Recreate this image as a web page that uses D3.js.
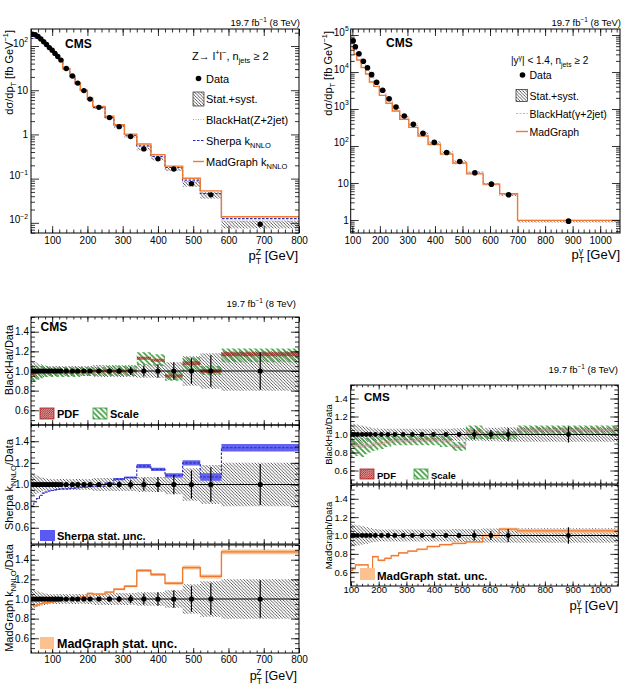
<!DOCTYPE html>
<html>
<head>
<meta charset="utf-8">
<title>Z+jets and photon+jets pT spectra</title>
<style>
  body { margin: 0; background: #fff; }
  svg { font-family: 'Liberation Sans', Arial, Helvetica, sans-serif; }
</style>
</head>
<body>
<svg id="svg" width="633" height="691"></svg>
<script src="https://d3js.org/d3.v7.min.js"></script>
<script>
// ---------- Z -> l+l-, njets >= 2 ----------
const zEdges = [40, 48, 56, 64, 72, 80, 88, 96, 104, 112, 120, 130, 150, 165, 180, 200, 215, 250, 275, 305, 340, 380, 420, 470, 520, 580, 800]
const zData = [185, 180, 165, 145, 125, 108, 92, 80, 68, 58, 48, 31, 21, 14.5, 9.8, 6.3, 4.1, 2.4, 1.5, 0.9, 0.47, 0.28, 0.165, 0.077, 0.043, 0.0093]
const zUnc = [0.1, 0.09, 0.08, 0.07, 0.06, 0.055, 0.05, 0.05, 0.05, 0.05, 0.05, 0.05, 0.05, 0.05, 0.05, 0.05, 0.06, 0.06, 0.06, 0.06, 0.07, 0.07, 0.09, 0.15, 0.18, 0.2]
const zStat = [0.01, 0.01, 0.01, 0.01, 0.01, 0.01, 0.01, 0.01, 0.01, 0.01, 0.01, 0.01, 0.012, 0.015, 0.015, 0.02, 0.02, 0.025, 0.03, 0.04, 0.057, 0.07, 0.09, 0.13, 0.16, 0.19]
// theory / data ratios
const bhZ = [0.97, 0.98, 0.99, 1.0, 1.0, 1.0, 1.0, 1.0, 1.0, 1.0, 0.99, 0.99, 0.99, 0.99, 1.0, 1.0, 1.0, 1.0, 1.0, 1.0, 1.13, 1.11, 0.95, 1.08, 1.0, 1.17]
const bhZScaleLo = [0.87, 0.89, 0.91, 0.92, 0.93, 0.94, 0.94, 0.94, 0.94, 0.94, 0.94, 0.94, 0.94, 0.94, 0.95, 0.95, 0.95, 0.95, 0.95, 0.95, 1.06, 1.05, 0.9, 1.0, 0.96, 1.09]
const bhZScaleHi = [1.06, 1.05, 1.05, 1.05, 1.05, 1.05, 1.04, 1.04, 1.04, 1.04, 1.04, 1.04, 1.04, 1.04, 1.04, 1.04, 1.04, 1.05, 1.05, 1.05, 1.19, 1.17, 1.0, 1.14, 1.05, 1.23]
const bhZPdf = [0.015, 0.015, 0.015, 0.015, 0.015, 0.015, 0.015, 0.015, 0.015, 0.015, 0.015, 0.015, 0.015, 0.015, 0.015, 0.015, 0.015, 0.015, 0.015, 0.015, 0.015, 0.015, 0.015, 0.02, 0.02, 0.02]
const shZ = [0.8, 0.84, 0.87, 0.9, 0.92, 0.93, 0.94, 0.945, 0.95, 0.955, 0.96, 0.96, 0.965, 0.97, 0.975, 0.98, 0.985, 1.01, 1.05, 1.065, 1.17, 1.14, 1.085, 1.2, 1.07, 1.34]
const shZErr = [0.004, 0.004, 0.004, 0.004, 0.004, 0.004, 0.004, 0.004, 0.004, 0.004, 0.004, 0.004, 0.004, 0.004, 0.004, 0.004, 0.004, 0.008, 0.01, 0.01, 0.02, 0.015, 0.02, 0.025, 0.035, 0.035]
const mgZ = [0.94, 0.93, 0.94, 0.95, 0.96, 0.96, 0.97, 0.97, 0.98, 0.98, 0.99, 1.0, 1.0, 1.01, 1.02, 1.057, 1.05, 1.07, 1.1, 1.13, 1.29, 1.25, 1.16, 1.32, 1.23, 1.48]
const mgZErr = [0.01, 0.01, 0.01, 0.01, 0.01, 0.01, 0.01, 0.01, 0.01, 0.01, 0.01, 0.01, 0.01, 0.01, 0.01, 0.01, 0.01, 0.01, 0.01, 0.01, 0.015, 0.015, 0.015, 0.02, 0.02, 0.025]

// ---------- photon, |y| < 1.4, njets >= 2 ----------
const gEdges = [100, 106, 116, 132, 148, 162, 178, 198, 222, 245, 272, 305, 338, 375, 420, 465, 515, 575, 635, 700, 1070]
const gData = [70000, 48000, 31000, 19500, 13000, 8500, 5300, 3200, 1900, 1130, 650, 385, 220, 125, 67, 38, 19, 9.3, 4.8, 0.93]
const gUnc = [0.12, 0.12, 0.11, 0.1, 0.09, 0.08, 0.07, 0.065, 0.065, 0.065, 0.065, 0.065, 0.065, 0.065, 0.065, 0.07, 0.07, 0.075, 0.08, 0.08]
const gStat = [0.005, 0.005, 0.005, 0.005, 0.005, 0.005, 0.005, 0.005, 0.005, 0.005, 0.005, 0.005, 0.01, 0.012, 0.015, 0.02, 0.055, 0.05, 0.07, 0.09]
const bhG = [0.9, 0.88, 0.88, 0.87, 0.88, 0.87, 0.9, 0.9, 0.92, 0.93, 0.93, 0.93, 0.94, 0.94, 0.93, 0.87, 1.03, 1.0, 1.0, 1.05]
const bhGScaleLo = [0.75, 0.78, 0.76, 0.75, 0.78, 0.8, 0.82, 0.84, 0.86, 0.88, 0.88, 0.88, 0.88, 0.88, 0.86, 0.82, 0.95, 0.95, 0.95, 1.0]
const bhGScaleHi = [0.98, 0.98, 0.97, 0.96, 0.96, 0.97, 0.98, 0.99, 0.99, 0.99, 0.99, 0.99, 0.99, 0.99, 0.99, 0.92, 1.1, 1.04, 1.04, 1.1]
const bhGPdf = [0.02, 0.02, 0.02, 0.02, 0.02, 0.02, 0.02, 0.02, 0.02, 0.02, 0.02, 0.02, 0.02, 0.02, 0.02, 0.02, 0.02, 0.02, 0.02, 0.02]
const mgG = [0.62, 0.64, 0.68, 0.68, 0.68, 0.63, 0.77, 0.73, 0.75, 0.78, 0.81, 0.83, 0.85, 0.88, 0.9, 0.915, 0.93, 1.0, 1.07, 1.05]
const mgGErr = [0.01, 0.01, 0.01, 0.01, 0.01, 0.01, 0.01, 0.01, 0.01, 0.01, 0.01, 0.01, 0.01, 0.01, 0.01, 0.01, 0.01, 0.015, 0.015, 0.02]

const ratioMajor = [0.6, 0.8, 1.0, 1.2, 1.4]
const lumiText = '19.7 fb'

// colours
const cOrange = '#f07a32', cOrangeBand = '#fdc08f'
const cBlue = '#2a2ab8', cBlueBand = '#5a5af2'
const cBH = '#b0a0c8', cBHg = '#d8a0dc'

const svg = d3.select('#svg')
svg.append('rect').attr('width', 633).attr('height', 691).attr('fill', '#fff')
const defs = svg.append('defs')

// hatch patterns (ROOT style fills)
function hatch(id, s, dir, color, sw) {
  const d = dir === 'back'
    ? `M-1,${s - 1} L1,${s + 1} M0,0 L${s},${s} M${s - 1},-1 L${s + 1},1`
    : `M-1,1 L1,-1 M0,${s} L${s},0 M${s - 1},${s + 1} L${s + 1},${s - 1}`
  defs.append('pattern').attr('id', id).attr('patternUnits', 'userSpaceOnUse')
    .attr('width', s).attr('height', s)
    .append('path').attr('d', d).attr('stroke', color).attr('stroke-width', sw).attr('fill', 'none')
}
hatch('hGray', 3.2, 'back', '#262626', 0.75)
hatch('hGreen', 5.5, 'back', '#3a9c3a', 1.7)
hatch('hRed', 2.2, 'fwd', '#a81c1c', 1.0)

let clipN = 0
function clipFor(xs, ys) {
  const id = 'clip' + (clipN++)
  const [x0, x1] = xs.range(), [y1, y0] = ys.range()
  defs.append('clipPath').attr('id', id).append('rect')
    .attr('x', x0).attr('y', y0).attr('width', x1 - x0).attr('height', y1 - y0)
  return `url(#${id})`
}

// text with sub/superscripts: parts = [[str, kind, dx]], kind: null | 'sub' | 'sup'
function rich(t, parts, fs) {
  let off = 0
  parts.forEach(([s, k, dx]) => {
    const target = k === 'sub' ? 0.28 * fs : k === 'sup' ? -0.42 * fs : 0
    const ts = t.append('tspan').attr('dy', target - off).text(s)
    if (k) ts.attr('font-size', 0.68 * fs)
    if (dx) ts.attr('dx', dx)
    off = target
  })
  return t
}

function label(x, y, fs, parts, opts = {}) {
  const t = svg.append('text').attr('x', x).attr('y', y).attr('font-size', fs)
    .attr('text-anchor', opts.anchor || 'start')
  if (opts.bold) t.attr('font-weight', 'bold')
  if (opts.rot) t.attr('x', null).attr('y', null).attr('transform', `translate(${x},${y}) rotate(-90)`)
  return rich(t, typeof parts === 'string' ? [[parts]] : parts, fs)
}

// ROOT-like frame: ticks inward on all four sides
function frame(xs, ys, o) {
  const g = svg.append('g')
  const [x0, x1] = xs.range(), [y1, y0] = ys.range()
  const side = (axis, tr, vals, len, fmt, fs, pad) => {
    const a = g.append('g').attr('transform', tr)
      .call(axis.tickValues(vals).tickSize(-len).tickPadding(pad || 0).tickFormat(fmt))
    a.select('.domain').remove()
    a.attr('font-family', null).attr('font-size', fs || 10)
    a.selectAll('line').attr('stroke', '#000').attr('stroke-width', 0.8)
    a.selectAll('text').attr('fill', '#000')
    return a
  }
  const none = () => ''
  side(d3.axisBottom(xs), `translate(0,${y1})`, o.xMinor, o.xLen / 2, none)
  side(d3.axisTop(xs), `translate(0,${y0})`, o.xMinor, o.xLen / 2, none)
  side(d3.axisTop(xs), `translate(0,${y0})`, o.xMajor, o.xLen, none)
  side(d3.axisBottom(xs), `translate(0,${y1})`, o.xMajor, o.xLen, o.xLabels ? d3.format('d') : none, o.xfs, o.xpad)
  side(d3.axisLeft(ys), `translate(${x0},0)`, o.yMinor, o.yLen / 2, none)
  side(d3.axisRight(ys), `translate(${x1},0)`, o.yMinor, o.yLen / 2, none)
  side(d3.axisRight(ys), `translate(${x1},0)`, o.yMajor, o.yLen, none)
  const ly = side(d3.axisLeft(ys), `translate(${x0},0)`, o.yMajor, o.yLen, o.yFmt || none, o.yfs, o.ypad)
  if (o.logLabels) {
    ly.selectAll('.tick text').each(function (d) {
      const e = Math.round(Math.log10(d))
      const t = d3.select(this).text(null)
      if (e === 0) t.text('1')
      else if (e === 1) t.text('10')
      else rich(t, [['10'], [e < 0 ? '\u2212' + (-e) : String(e), 'sup']], o.yfs)
    })
  }
  g.append('rect').attr('x', x0).attr('y', y0).attr('width', x1 - x0).attr('height', y1 - y0)
    .attr('fill', 'none').attr('stroke', '#000').attr('stroke-width', 1)
  return g
}

function logMinor(ys) {
  const [a, b] = ys.domain()
  const out = []
  for (let e = Math.floor(Math.log10(a)); e <= Math.ceil(Math.log10(b)); e++)
    for (let k = 2; k <= 9; k++) { const v = k * 10 ** e; if (v >= a && v <= b) out.push(v) }
  return out
}
function logMajor(ys) {
  const [a, b] = ys.domain()
  const out = []
  for (let e = Math.ceil(Math.log10(a)); e <= Math.floor(Math.log10(b)); e++) out.push(10 ** e)
  return out
}

// bins -> vertices for a step outline or band
const stepPts = (edges, vals) => vals.flatMap((v, i) => [[edges[i], v], [edges[i + 1], v]])
const bandPts = (edges, lo, hi) => lo.flatMap((l, i) => [[edges[i], l, hi[i]], [edges[i + 1], l, hi[i]]])

function stepLine(g, xs, ys, edges, vals, stroke, sw, dash) {
  const line = d3.line().x(d => xs(d[0])).y(d => ys(d[1]))
  const p = g.append('path').attr('d', line(stepPts(edges, vals)))
    .attr('fill', 'none').attr('stroke', stroke).attr('stroke-width', sw)
  if (dash) p.attr('stroke-dasharray', dash)
  return p
}
function band(g, xs, ys, edges, lo, hi, fill, opacity) {
  const area = d3.area().x(d => xs(d[0])).y0(d => ys(d[1])).y1(d => ys(d[2]))
  return g.append('path').attr('d', area(bandPts(edges, lo, hi))).attr('fill', fill)
    .attr('fill-opacity', opacity == null ? 1 : opacity)
}
const centers = edges => edges.slice(0, -1).map((e, i) => (e + edges[i + 1]) / 2)

function lumi(xRight, y) {
  label(xRight, y, 9.5, [[lumiText], ['\u22121', 'sup'], [' (8 TeV)']], { anchor: 'end' })
}
const sigmaTitle = [['d\u03c3/dp'], ['T', 'sub'], [' [fb GeV'], ['\u22121', 'sup'], [']']]

// ================= top-left: Z spectrum =================
{
  const xs = d3.scaleLinear().domain([40, 800]).range([31, 299])
  const ys = d3.scaleLog().domain([10 ** -2.23, 10 ** 2.385]).range([233, 29])
  const g = svg.append('g').attr('clip-path', clipFor(xs, ys))
  zData.forEach((v, i) => {
    g.append('rect').attr('x', xs(zEdges[i])).attr('width', xs(zEdges[i + 1]) - xs(zEdges[i]))
      .attr('y', ys(v * (1 + zUnc[i]))).attr('height', ys(v * (1 - zUnc[i])) - ys(v * (1 + zUnc[i])))
      .attr('fill', 'url(#hGray)')
  })
  stepLine(g, xs, ys, zEdges, zData.map((v, i) => v * bhZ[i]), cBH, 1, '1,1.5')
  stepLine(g, xs, ys, zEdges, zData.map((v, i) => v * shZ[i]), cBlue, 1.1, '2.5,1.5')
  stepLine(g, xs, ys, zEdges, zData.map((v, i) => v * mgZ[i]), cOrange, 1.4)
  centers(zEdges).forEach((c, i) => {
    g.append('circle').attr('cx', xs(c)).attr('cy', ys(zData[i])).attr('r', 2.7).attr('fill', '#000')
  })
  frame(xs, ys, { xMajor: d3.range(100, 801, 100), xMinor: d3.range(40, 801, 20), yMajor: logMajor(ys),
    yMinor: logMinor(ys), xLen: 7, yLen: 8, xfs: 10, yfs: 10, xpad: 4, ypad: 3, xLabels: true, logLabels: true })
  lumi(300, 26)
  label(65, 48, 12, 'CMS', { bold: true })
  label(12.5, 30, 11, sigmaTitle, { anchor: 'end', rot: true })
  label(298, 260, 13, [['p'], ['T', 'sub'], ['Z', 'sup', -5.5], [' [GeV]']], { anchor: 'end' })
  // legend
  label(192, 60, 11, [['Z\u2192 l'], ['+', 'sup'], ['l'], ['\u2212', 'sup'], [', n'], ['jets', 'sub'], [' \u2265 2']])
  svg.append('circle').attr('cx', 198.5).attr('cy', 78.5).attr('r', 2.8).attr('fill', '#000')
  label(206, 82.5, 11, 'Data')
  svg.append('rect').attr('x', 193).attr('y', 92).attr('width', 11).attr('height', 14)
    .attr('fill', 'url(#hGray)').attr('stroke', '#000').attr('stroke-width', 0.6)
  label(206, 103, 11, 'Stat.+syst.')
  const leg = (y, stroke, sw, dash) => {
    const l = svg.append('line').attr('x1', 193).attr('x2', 204).attr('y1', y).attr('y2', y)
      .attr('stroke', stroke).attr('stroke-width', sw)
    if (dash) l.attr('stroke-dasharray', dash)
  }
  leg(119.5, cBH, 1, '1,1.5')
  label(206, 124, 11, 'BlackHat(Z+2jet)')
  leg(140.5, cBlue, 1.2, '2.5,1.5')
  label(206, 145, 11, [['Sherpa k'], ['NNLO', 'sub']])
  leg(161.5, cOrange, 1.4)
  label(206, 166, 11, [['MadGraph k'], ['NNLO', 'sub']])
}

// ================= top-right: photon spectrum =================
{
  const xs = d3.scaleLinear().domain([94, 1072]).range([350.7, 620])
  const ys = d3.scaleLog().domain([10 ** -0.352, 10 ** 5.163]).range([233, 29])
  const g = svg.append('g').attr('clip-path', clipFor(xs, ys))
  gData.forEach((v, i) => {
    g.append('rect').attr('x', xs(gEdges[i])).attr('width', xs(gEdges[i + 1]) - xs(gEdges[i]))
      .attr('y', ys(v * (1 + gUnc[i]))).attr('height', ys(v * (1 - gUnc[i])) - ys(v * (1 + gUnc[i])))
      .attr('fill', 'url(#hGray)')
  })
  stepLine(g, xs, ys, gEdges, gData.map((v, i) => v * bhG[i]), cBHg, 1, '2,1.5')
  stepLine(g, xs, ys, gEdges, gData.map((v, i) => v * mgG[i]), cOrange, 1.4)
  centers(gEdges).forEach((c, i) => {
    g.append('circle').attr('cx', xs(c)).attr('cy', ys(gData[i])).attr('r', 2.8).attr('fill', '#000')
  })
  frame(xs, ys, { xMajor: d3.range(100, 1001, 100), xMinor: d3.range(100, 1072, 20), yMajor: logMajor(ys),
    yMinor: logMinor(ys), xLen: 7, yLen: 8, xfs: 10, yfs: 10, xpad: 4, ypad: 2, xLabels: true, logLabels: true })
  lumi(621, 26)
  label(386, 47, 12, 'CMS', { bold: true })
  label(332, 31, 11, sigmaTitle, { anchor: 'end', rot: true })
  label(620, 259, 13, [['p'], ['T', 'sub'], ['\u03b3', 'sup', -5.5], [' [GeV]']], { anchor: 'end' })
  label(511, 64, 10, [['|y'], ['\u03b3', 'sup'], ['| < 1.4, n'], ['jets', 'sub'], [' \u2265 2']])
  svg.append('circle').attr('cx', 522.5).attr('cy', 75).attr('r', 2.8).attr('fill', '#000')
  label(529.5, 79, 10.5, 'Data')
  svg.append('rect').attr('x', 516).attr('y', 89.5).attr('width', 11.5).attr('height', 12)
    .attr('fill', 'url(#hGray)').attr('stroke', '#000').attr('stroke-width', 0.6)
  label(529.5, 99.5, 10.5, 'Stat.+syst.')
  svg.append('line').attr('x1', 516).attr('x2', 528).attr('y1', 113.5).attr('y2', 113.5)
    .attr('stroke', cBHg).attr('stroke-width', 1).attr('stroke-dasharray', '2,1.5')
  label(529.5, 117.5, 10.5, 'BlackHat(\u03b3+2jet)')
  svg.append('line').attr('x1', 516).attr('x2', 528).attr('y1', 131.5).attr('y2', 131.5)
    .attr('stroke', cOrange).attr('stroke-width', 1.4)
  label(529.5, 135.5, 10.5, 'MadGraph')
}

// ================= ratio panels =================
function dataRatio(g, xs, ys, edges, unc) {
  band(g, xs, ys, edges, unc.map(u => 1 - u), unc.map(u => 1 + u), 'url(#hGray)')
}
function dataPoints(g, xs, ys, edges, stat, r) {
  const [x0, x1] = xs.range()
  g.append('line').attr('x1', x0).attr('x2', x1).attr('y1', ys(1)).attr('y2', ys(1))
    .attr('stroke', '#000').attr('stroke-width', 1.2)
  centers(edges).forEach((c, i) => {
    g.append('line').attr('x1', xs(c)).attr('x2', xs(c)).attr('y1', ys(1 - stat[i])).attr('y2', ys(1 + stat[i]))
      .attr('stroke', '#000').attr('stroke-width', 1.2)
    g.append('circle').attr('cx', xs(c)).attr('cy', ys(1)).attr('r', r).attr('fill', '#000')
  })
}
function ratioFrame(xs, ys, o) {
  frame(xs, ys, Object.assign({ yMajor: ratioMajor, yMinor: d3.range(0.5, 1.551, 0.05), yLen: 8,
    yFmt: d3.format('.1f') }, o))
}
function legBox(x, y, w, h, fill, stroke) {
  svg.append('rect').attr('x', x).attr('y', y).attr('width', w).attr('height', h)
    .attr('fill', fill).attr('stroke', stroke || 'none').attr('stroke-width', 0.8)
}

// ----- bottom-left (Z) -----
{
  const xs = d3.scaleLinear().domain([40, 800]).range([31, 299])
  const ax = { xMajor: d3.range(100, 801, 100), xMinor: d3.range(40, 801, 20), xLen: 5,
    xfs: 10, yfs: 10, xpad: 3, ypad: 2 }
  // BlackHat / Data
  let ys = d3.scaleLinear().domain([0.45, 1.55]).range([425, 317])
  let g = svg.append('g').attr('clip-path', clipFor(xs, ys))
  dataRatio(g, xs, ys, zEdges, zUnc)
  band(g, xs, ys, zEdges, bhZScaleLo, bhZScaleHi, 'url(#hGreen)')
  band(g, xs, ys, zEdges, bhZ.map((v, i) => v - bhZPdf[i]), bhZ.map((v, i) => v + bhZPdf[i]), 'url(#hRed)')
  dataPoints(g, xs, ys, zEdges, zStat, 2.6)
  ratioFrame(xs, ys, Object.assign({ xLabels: false }, ax))
  lumi(296, 307)
  label(40.5, 331, 12, 'CMS', { bold: true })
  label(12.8, 360, 11, 'BlackHat/Data', { anchor: 'middle', rot: true })
  legBox(40, 408, 14, 11, 'url(#hRed)', '#a81c1c')
  label(57, 418, 11, 'PDF', { bold: true })
  legBox(93, 408, 14, 11, 'url(#hGreen)', '#3a9c3a')
  label(110, 418, 11, 'Scale', { bold: true })

  // Sherpa / Data
  ys = d3.scaleLinear().domain([0.45, 1.55]).range([544, 425])
  g = svg.append('g').attr('clip-path', clipFor(xs, ys))
  dataRatio(g, xs, ys, zEdges, zUnc)
  band(g, xs, ys, zEdges, shZ.map((v, i) => v - shZErr[i]), shZ.map((v, i) => v + shZErr[i]), cBlueBand, 0.95)
  stepLine(g, xs, ys, zEdges, shZ, cBlue, 1.1, '2.5,1.5')
  dataPoints(g, xs, ys, zEdges, zStat, 2.6)
  ratioFrame(xs, ys, Object.assign({ xLabels: false }, ax))
  label(12.8, 484.5, 11, [['Sherpa k'], ['NNLO', 'sub'], ['/Data']], { anchor: 'middle', rot: true })
  legBox(40, 530, 15, 11, cBlueBand)
  label(57, 540, 11, 'Sherpa stat. unc.', { bold: true })

  // MadGraph / Data
  ys = d3.scaleLinear().domain([0.45, 1.55]).range([653, 545])
  g = svg.append('g').attr('clip-path', clipFor(xs, ys))
  dataRatio(g, xs, ys, zEdges, zUnc)
  band(g, xs, ys, zEdges, mgZ.map((v, i) => v - mgZErr[i]), mgZ.map((v, i) => v + mgZErr[i]), cOrangeBand)
  stepLine(g, xs, ys, zEdges, mgZ, cOrange, 1.4)
  dataPoints(g, xs, ys, zEdges, zStat, 2.6)
  ratioFrame(xs, ys, Object.assign({ xLabels: true }, ax))
  label(12.8, 598, 11, [['MadGraph k'], ['NNLO', 'sub'], ['/Data']], { anchor: 'middle', rot: true })
  legBox(40, 637, 14, 12, cOrangeBand)
  label(57, 648, 12.5, 'MadGraph stat. unc.', { bold: true })
  label(297, 680, 12.5, [['p'], ['T', 'sub'], ['Z', 'sup', -5.5], [' [GeV]']], { anchor: 'end' })
}

// ----- bottom-right (photon) -----
{
  const xs = d3.scaleLinear().domain([99, 1065]).range([350.7, 618.3])
  const ax = { xMajor: d3.range(100, 1001, 100), xMinor: d3.range(100, 1065, 20), xLen: 4.5,
    xfs: 9.5, yfs: 9.5, xpad: 0.5, ypad: 3 }
  let ys = d3.scaleLinear().domain([0.45, 1.55]).range([484, 385])
  let g = svg.append('g').attr('clip-path', clipFor(xs, ys))
  dataRatio(g, xs, ys, gEdges, gUnc)
  band(g, xs, ys, gEdges, bhGScaleLo, bhGScaleHi, 'url(#hGreen)')
  band(g, xs, ys, gEdges, bhG.map((v, i) => v - bhGPdf[i]), bhG.map((v, i) => v + bhGPdf[i]), 'url(#hRed)', 0.35)
  stepLine(g, xs, ys, gEdges, bhG, cBHg, 1, '2,1.5')
  dataPoints(g, xs, ys, gEdges, gStat, 2.4)
  ratioFrame(xs, ys, Object.assign({ xLabels: false }, ax))
  lumi(618, 373)
  label(364, 401, 11.5, 'CMS', { bold: true })
  label(331.5, 434.5, 9.5, 'BlackHat/Data', { anchor: 'middle', rot: true })
  legBox(360, 469, 14, 10, 'url(#hRed)', '#a81c1c')
  label(377, 478.5, 9.5, 'PDF', { bold: true })
  legBox(414, 469, 14, 10, 'url(#hGreen)', '#3a9c3a')
  label(431, 478.5, 9.5, 'Scale', { bold: true })

  ys = d3.scaleLinear().domain([0.45, 1.55]).range([586, 485])
  g = svg.append('g').attr('clip-path', clipFor(xs, ys))
  dataRatio(g, xs, ys, gEdges, gUnc)
  band(g, xs, ys, gEdges, mgG.map((v, i) => v - mgGErr[i]), mgG.map((v, i) => v + mgGErr[i]), cOrangeBand)
  stepLine(g, xs, ys, gEdges, mgG, cOrange, 1.2)
  dataPoints(g, xs, ys, gEdges, gStat, 2.4)
  ratioFrame(xs, ys, Object.assign({ xLabels: true }, ax))
  label(331.5, 535.5, 9.5, 'MadGraph/Data', { anchor: 'middle', rot: true })
  legBox(360, 568, 15, 12, cOrangeBand)
  label(377, 580, 11.5, 'MadGraph stat. unc.', { bold: true })
  label(618, 610, 13, [['p'], ['T', 'sub'], ['\u03b3', 'sup', -5.5], [' [GeV]']], { anchor: 'end' })
}
</script>
</body>
</html>
